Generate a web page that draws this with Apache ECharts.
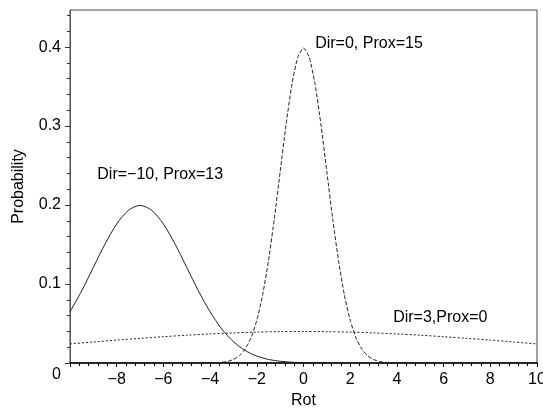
<!DOCTYPE html>
<html>
<head>
<meta charset="utf-8">
<script src="https://cdn.jsdelivr.net/npm/echarts@6/dist/echarts.min.js"></script>
<style>html,body{margin:0;padding:0;background:#fff;}#c{width:543px;height:409px;}</style>
</head>
<body>
<div id="c"></div>
<script>
// Curve 1: Dir=-10, Prox=13 (solid)
const solidX = [-10, -9.5, -9, -8.5, -8, -7.5, -7, -6.5, -6, -5.5, -5, -4.5, -4, -3.5, -3, -2.5, -2, -1.5, -1, -0.5, 0, 0.5, 1];
const solidY = [0.0648, 0.0913, 0.1210, 0.1506, 0.1760, 0.1933, 0.1995, 0.1933, 0.1760, 0.1506, 0.1210, 0.0913, 0.0648, 0.0431, 0.0270, 0.0159, 0.0088, 0.0045, 0.0022, 0.0010, 0.0004, 0.0002, 0.0001];
// Curve 2: Dir=0, Prox=15 (dashed)
const dashX = [-4, -3.75, -3.5, -3.25, -3, -2.75, -2.5, -2.25, -2, -1.75, -1.5, -1.25, -1, -0.75, -0.5, -0.25, 0, 0.25, 0.5, 0.75, 1, 1.25, 1.5, 1.75, 2, 2.25, 2.5, 2.75, 3, 3.25, 3.5, 3.75, 4];
const dashY = [0.0001, 0.0004, 0.0009, 0.0020, 0.0044, 0.0091, 0.0175, 0.0317, 0.0540, 0.0863, 0.1295, 0.1826, 0.2420, 0.3011, 0.3521, 0.3867, 0.3989, 0.3867, 0.3521, 0.3011, 0.2420, 0.1826, 0.1295, 0.0863, 0.0540, 0.0317, 0.0175, 0.0091, 0.0044, 0.0020, 0.0009, 0.0004, 0.0001];
// Curve 3: Dir=3, Prox=0 (dotted)
const dotX = [-10, -9, -8, -7, -6, -5, -4, -3, -2, -1, 0, 1, 2, 3, 4, 5, 6, 7, 8, 9, 10];
const dotY = [0.0242, 0.0266, 0.0290, 0.0312, 0.0333, 0.0352, 0.0368, 0.0381, 0.0391, 0.0397, 0.0399, 0.0397, 0.0391, 0.0381, 0.0368, 0.0352, 0.0333, 0.0312, 0.0290, 0.0266, 0.0242];
// Annotations
const annTexts = ['Dir=\u221210, Prox=13', 'Dir=0, Prox=15', 'Dir=3,Prox=0'];
const annX = [-8.83, 0.5, 3.84];
const annY = [0.238, 0.405, 0.058];
// Axis ticks
const yMajor = [0, 0.1, 0.2, 0.3, 0.4];
const yMinor = [0.02, 0.04, 0.06, 0.08, 0.12, 0.14, 0.16, 0.18, 0.22, 0.24, 0.26, 0.28, 0.32, 0.34, 0.36, 0.38, 0.42, 0.44];

const FONT = 'Liberation Sans, Arial, Helvetica, sans-serif';
const pairs = (xs, ys) => xs.map((x, i) => [x, ys[i]]);
const gridBox = {left: 70, right: 6, top: 10, bottom: 46, outerBoundsMode: 'none', containLabel: false};
const YMAX = 0.447;

function ann(i) {
  return {
    coord: [annX[i], annY[i]],
    symbol: 'circle', symbolSize: 0,
    label: {show: true, position: 'right', distance: 0, formatter: annTexts[i],
      color: '#000', fontSize: 16, fontFamily: FONT}
  };
}

const chart = echarts.init(document.getElementById('c'), null, {renderer: 'canvas'});
chart.setOption({
  animation: false,
  backgroundColor: '#fff',
  grid: [
    Object.assign({show: true, borderColor: '#444', borderWidth: 1, backgroundColor: 'transparent'}, gridBox),
    Object.assign({show: false}, gridBox)
  ],
  xAxis: [{
    type: 'value', gridIndex: 0, min: -10, max: 10, interval: 2,
    name: 'Rot', nameLocation: 'middle', nameGap: 29,
    nameTextStyle: {color: '#000', fontSize: 16, fontFamily: FONT},
    axisLine: {show: true, onZero: false, lineStyle: {color: '#000', width: 1.5}},
    axisTick: {show: true, length: 4, lineStyle: {color: '#000'}},
    minorTick: {show: true, splitNumber: 5, length: 3, lineStyle: {color: '#000'}},
    axisLabel: {show: true, margin: 9, color: '#000', fontSize: 16, fontFamily: FONT, showMinLabel: false,
      formatter: v => v === -10 ? '' : String(v).replace('-', '\u2212')},
    splitLine: {show: false}
  }, {
    type: 'value', gridIndex: 1, min: -10, max: 10, show: false,
    axisLine: {onZero: false}
  }],
  yAxis: [{
    type: 'value', gridIndex: 0, min: 0, max: YMAX,
    name: 'Probability', nameLocation: 'middle', nameGap: 43,
    nameTextStyle: {color: '#000', fontSize: 16, fontFamily: FONT},
    axisLine: {show: true, onZero: false, lineStyle: {color: '#555', width: 1}},
    axisTick: {show: true, length: 5, customValues: yMajor, lineStyle: {color: '#333'}},
    axisLabel: {show: true, margin: 9, color: '#000', fontSize: 16, fontFamily: FONT, customValues: yMajor,
      formatter: v => v === 0 ? '{z|0}' : String(Math.round(v * 10) / 10),
      rich: {z: {fontSize: 16, fontFamily: FONT, color: '#000', padding: [24, 0, 0, 0]}}},
    splitLine: {show: false}
  }, {
    type: 'value', gridIndex: 1, min: 0, max: YMAX, position: 'left',
    axisLine: {show: false, onZero: false},
    axisTick: {show: true, length: 3, customValues: yMinor, lineStyle: {color: '#333'}},
    axisLabel: {show: false},
    splitLine: {show: false}
  }],
  series: [{
    type: 'line', xAxisIndex: 0, yAxisIndex: 0, data: pairs(solidX, solidY),
    showSymbol: false, smooth: 0.3, lineStyle: {color: '#222', width: 1, type: 'solid'},
    markPoint: {data: [ann(0)]}
  }, {
    type: 'line', xAxisIndex: 0, yAxisIndex: 0, data: pairs(dashX, dashY),
    showSymbol: false, smooth: 0.2, lineStyle: {color: '#222', width: 1, type: [4, 2]},
    markPoint: {data: [ann(1)]}
  }, {
    type: 'line', xAxisIndex: 0, yAxisIndex: 0, data: pairs(dotX, dotY),
    showSymbol: false, smooth: 0.3, lineStyle: {color: '#222', width: 1, type: [2, 2]},
    markPoint: {data: [ann(2)]}
  }]
});
</script>
</body>
</html>
